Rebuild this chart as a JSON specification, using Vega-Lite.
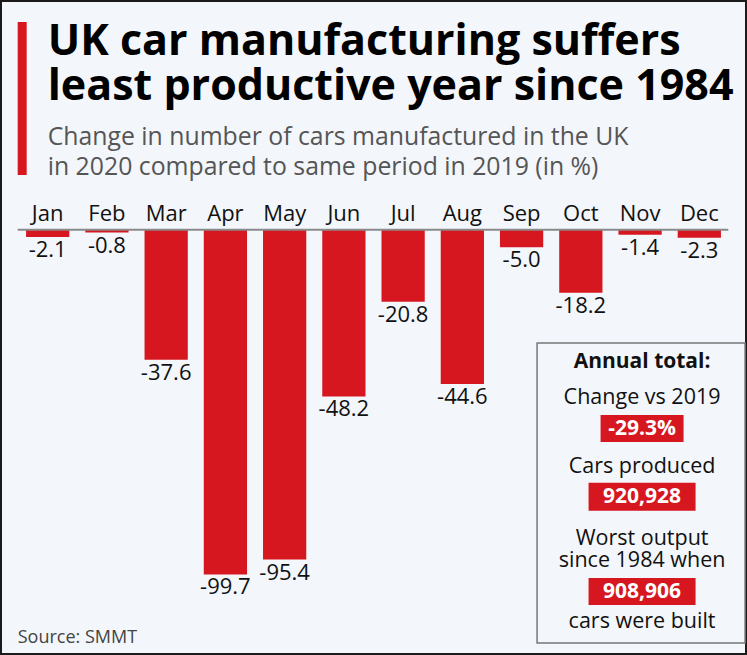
{
  "$schema": "https://vega.github.io/schema/vega-lite/v6.json",
  "width": 747,
  "height": 655,
  "autosize": {"type": "none"},
  "padding": 0,
  "background": "#f3f6fa",
  "config": {
    "view": {"stroke": "#1a1a1a", "strokeWidth": 4, "fill": "#f3f6fa"},
    "font": "Open Sans",
    "text": {"font": "Open Sans"},
    "locale": {"number": {"decimal": ".", "thousands": ",", "grouping": [3], "currency": ["", ""], "minus": "-"}}
  },
  "data": {"values": [
    {"month": "Jan", "value": -2.1},
    {"month": "Feb", "value": -0.8},
    {"month": "Mar", "value": -37.6},
    {"month": "Apr", "value": -99.7},
    {"month": "May", "value": -95.4},
    {"month": "Jun", "value": -48.2},
    {"month": "Jul", "value": -20.8},
    {"month": "Aug", "value": -44.6},
    {"month": "Sep", "value": -5.0},
    {"month": "Oct", "value": -18.2},
    {"month": "Nov", "value": -1.4},
    {"month": "Dec", "value": -2.3}
  ]},
  "layer": [
    {
      "mark": {"type": "bar", "color": "#d7171f"},
      "encoding": {
        "x": {"field": "month", "type": "nominal", "sort": null, "axis": null,
              "scale": {"domain": ["Jan","Feb","Mar","Apr","May","Jun","Jul","Aug","Sep","Oct","Nov","Dec"], "paddingInner": 0.27, "paddingOuter": 0.44}},
        "y": {"field": "value", "type": "quantitative", "axis": null,
              "scale": {"domain": [-123, 66.5], "nice": false, "zero": false}},
        "y2": {"datum": 0}
      }
    },
    {
      "mark": {"type": "text", "baseline": "top", "dy": 3, "fontSize": 22, "color": "#111"},
      "encoding": {
        "x": {"field": "month", "type": "nominal", "sort": null},
        "y": {"field": "value", "type": "quantitative"},
        "text": {"field": "value", "type": "quantitative", "format": ".1f"}
      }
    },
    {
      "mark": {"type": "text", "baseline": "alphabetic", "fontSize": 22, "color": "#111"},
      "encoding": {
        "x": {"field": "month", "type": "nominal", "sort": null},
        "y": {"datum": 2.55},
        "text": {"field": "month", "type": "nominal"}
      }
    },
    {
      "data": {"values": [{}]},
      "mark": {"type": "rule", "color": "#8a8a8a", "strokeWidth": 2, "xOffset": -30, "x2Offset": 29},
      "encoding": {
        "x": {"datum": "Jan"},
        "x2": {"datum": "Dec"},
        "y": {"datum": 0}
      }
    },
    {
      "data": {"values": [{}]},
      "mark": {"type": "rule", "color": "#d7171f", "strokeWidth": 9, "xOffset": -25.5},
      "encoding": {
        "x": {"datum": "Jan"},
        "y": {"datum": 60.1},
        "y2": {"datum": 15.9}
      }
    },
    {
      "data": {"values": [{}]},
      "mark": {"type": "text", "text": "UK car manufacturing suffers", "align": "left", "baseline": "alphabetic", "fontSize": 43, "fontWeight": "bold", "color": "#000"},
      "encoding": {"x": {"datum": "Jan"}, "y": {"datum": 50.6}}
    },
    {
      "data": {"values": [{}]},
      "mark": {"type": "text", "text": "least productive year since 1984", "align": "left", "baseline": "alphabetic", "fontSize": 43, "fontWeight": "bold", "color": "#000"},
      "encoding": {"x": {"datum": "Jan"}, "y": {"datum": 37.6}}
    },
    {
      "data": {"values": [{}]},
      "mark": {"type": "text", "text": "Change in number of cars manufactured in the UK", "align": "left", "baseline": "alphabetic", "fontSize": 24.8, "color": "#555"},
      "encoding": {"x": {"datum": "Jan"}, "y": {"datum": 24.5}}
    },
    {
      "data": {"values": [{}]},
      "mark": {"type": "text", "text": "in 2020 compared to same period in 2019 (in %)", "align": "left", "baseline": "alphabetic", "fontSize": 24.8, "color": "#555"},
      "encoding": {"x": {"datum": "Jan"}, "y": {"datum": 15.9}}
    },
    {
      "data": {"values": [{}]},
      "mark": {"type": "text", "text": "Source: SMMT", "align": "left", "baseline": "alphabetic", "fontSize": 18, "color": "#444", "dx": -30},
      "encoding": {"x": {"datum": "Jan"}, "y": {"datum": -119.5}}
    },
    {
      "data": {"values": [{}]},
      "mark": {"type": "bar", "width": 208, "xOffset": 1, "fill": "#f3f6fa", "stroke": "#777", "strokeWidth": 1.5},
      "encoding": {"x": {"datum": "Nov"}, "y": {"datum": -32.7}, "y2": {"datum": -119.5}}
    },
    {
      "data": {"values": [{}]},
      "mark": {"type": "bar", "width": 83, "xOffset": 2, "color": "#d7171f"},
      "encoding": {"x": {"datum": "Nov"}, "y": {"datum": -53.6}, "y2": {"datum": -61.4}}
    },
    {
      "data": {"values": [{}]},
      "mark": {"type": "bar", "width": 107, "xOffset": 2, "color": "#d7171f"},
      "encoding": {"x": {"datum": "Nov"}, "y": {"datum": -73.2}, "y2": {"datum": -81.3}}
    },
    {
      "data": {"values": [{}]},
      "mark": {"type": "bar", "width": 107, "xOffset": 2, "color": "#d7171f"},
      "encoding": {"x": {"datum": "Nov"}, "y": {"datum": -100.7}, "y2": {"datum": -108.5}}
    },
    {
      "data": {"values": [{}]},
      "mark": {"type": "text", "text": "Annual total:", "baseline": "alphabetic", "fontSize": 21, "fontWeight": "bold", "color": "#111", "dx": 2},
      "encoding": {"x": {"datum": "Nov"}, "y": {"datum": -40.0}}
    },
    {
      "data": {"values": [{}]},
      "mark": {"type": "text", "text": "Change vs 2019", "baseline": "alphabetic", "fontSize": 21.5, "color": "#111", "dx": 2},
      "encoding": {"x": {"datum": "Nov"}, "y": {"datum": -50.4}}
    },
    {
      "data": {"values": [{}]},
      "mark": {"type": "text", "text": "-29.3%", "baseline": "alphabetic", "fontSize": 21, "fontWeight": "bold", "color": "#fff", "dx": 2},
      "encoding": {"x": {"datum": "Nov"}, "y": {"datum": -59.3}}
    },
    {
      "data": {"values": [{}]},
      "mark": {"type": "text", "text": "Cars produced", "baseline": "alphabetic", "fontSize": 21.5, "color": "#111", "dx": 2},
      "encoding": {"x": {"datum": "Nov"}, "y": {"datum": -70.3}}
    },
    {
      "data": {"values": [{}]},
      "mark": {"type": "text", "text": "920,928", "baseline": "alphabetic", "fontSize": 21, "fontWeight": "bold", "color": "#fff", "dx": 2},
      "encoding": {"x": {"datum": "Nov"}, "y": {"datum": -79.0}}
    },
    {
      "data": {"values": [{}]},
      "mark": {"type": "text", "text": "Worst output", "baseline": "alphabetic", "fontSize": 21.5, "color": "#111", "dx": 2},
      "encoding": {"x": {"datum": "Nov"}, "y": {"datum": -91.2}}
    },
    {
      "data": {"values": [{}]},
      "mark": {"type": "text", "text": "since 1984 when", "baseline": "alphabetic", "fontSize": 21.5, "color": "#111", "dx": 2},
      "encoding": {"x": {"datum": "Nov"}, "y": {"datum": -97.5}}
    },
    {
      "data": {"values": [{}]},
      "mark": {"type": "text", "text": "908,906", "baseline": "alphabetic", "fontSize": 21, "fontWeight": "bold", "color": "#fff", "dx": 2},
      "encoding": {"x": {"datum": "Nov"}, "y": {"datum": -106.5}}
    },
    {
      "data": {"values": [{}]},
      "mark": {"type": "text", "text": "cars were built", "baseline": "alphabetic", "fontSize": 21.5, "color": "#111", "dx": 2},
      "encoding": {"x": {"datum": "Nov"}, "y": {"datum": -115.2}}
    }
  ]
}
